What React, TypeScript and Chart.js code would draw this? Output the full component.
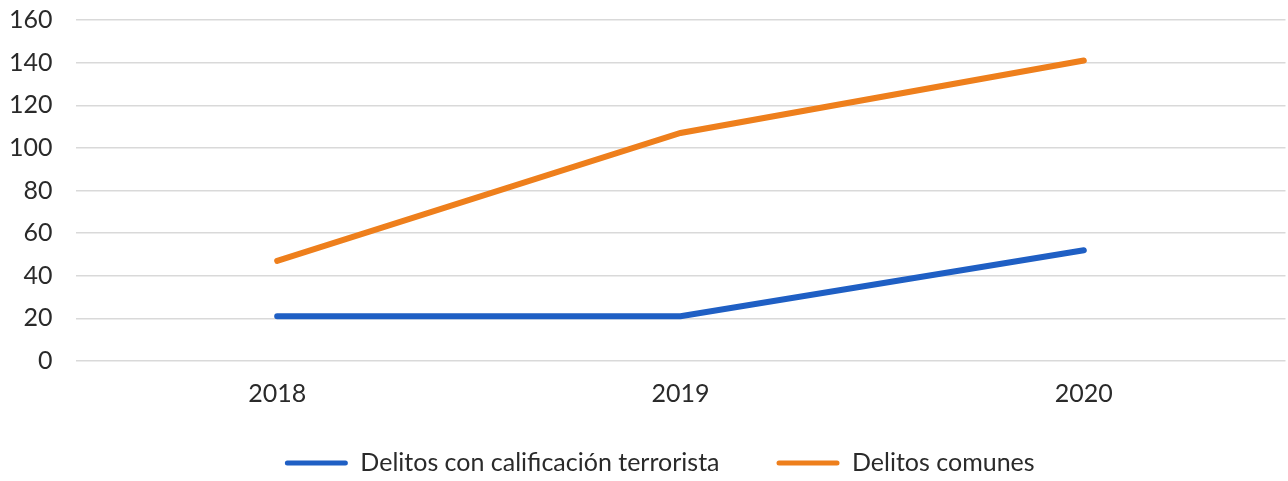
import React, { useEffect, useRef } from "react";
import { Chart, registerables } from "chart.js";

Chart.register(...registerables);

const categories = ["2018", "2019", "2020"];
const terroristaLabel = "Delitos con calificación terrorista";
const comunesLabel = "Delitos comunes";
const terroristaValues = [21, 21, 52];
const comunesValues = [47, 107, 141];
const yTicks = [0, 20, 40, 60, 80, 100, 120, 140, 160];

const BLUE = "#1f5fc4";
const ORANGE = "#ee7f1c";
const TEXT = "#2a2a2a";
const FONT = "Lato, 'Open Sans', sans-serif";
const LEGEND_SIZE = 25;
const LEGEND_PAD = 57;

const legendShift = {
  id: "legendShift",
  afterLayout(chart: any) {
    const l = chart.legend;
    if (!l) return;
    const dx = 17;
    const targetCenter = 463;
    const dy = targetCenter - (l.top + LEGEND_PAD + LEGEND_SIZE / 2);
    l.left += dx;
    l.right += dx;
    l.top += dy;
    l.bottom += dy;
  },
};

export default function App() {
  const ref = useRef<HTMLCanvasElement | null>(null);

  useEffect(() => {
    document.body.style.margin = "0";
    const canvas = ref.current;
    if (!canvas) return;
    const chart = new Chart(canvas, {
      type: "line",
      data: {
        labels: categories,
        datasets: [
          {
            label: terroristaLabel,
            data: terroristaValues,
            borderColor: BLUE,
            backgroundColor: BLUE,
            borderWidth: 6,
            pointRadius: 0,
            tension: 0,
            borderCapStyle: "round",
          },
          {
            label: comunesLabel,
            data: comunesValues,
            borderColor: ORANGE,
            backgroundColor: ORANGE,
            borderWidth: 6,
            pointRadius: 0,
            tension: 0,
            borderCapStyle: "round",
          },
        ],
      },
      plugins: [legendShift],
      options: {
        animation: false,
        responsive: false,
        maintainAspectRatio: false,
        layout: { padding: { left: 0, right: 2.5, top: 20, bottom: -22 } },
        plugins: {
          tooltip: { enabled: false },
          legend: {
            position: "bottom",
            labels: {
              boxWidth: 63,
              boxHeight: 5,
              padding: LEGEND_PAD,
              color: TEXT,
              font: { family: FONT, size: LEGEND_SIZE },
              useBorderRadius: true,
              borderRadius: 2.5,
              generateLabels: (c: any) => {
                const items = Chart.defaults.plugins.legend.labels.generateLabels(c);
                return items.map((it: any) => ({ ...it, lineWidth: 0 }));
              },
            },
          },
        },
        scales: {
          x: {
            offset: true,
            grid: { display: false, drawTicks: false },
            border: { display: false },
            ticks: {
              color: TEXT,
              font: { family: FONT, size: 25 },
              padding: 18,
            },
            afterFit: (s: any) => {
              s.height = 50;
            },
          },
          y: {
            min: 0,
            max: 160,
            afterBuildTicks: (s: any) => {
              s.ticks = yTicks.map((v) => ({ value: v }));
            },
            grid: { color: "#d9d9d9", lineWidth: 1.5, drawTicks: false },
            border: { display: false },
            ticks: {
              color: TEXT,
              font: { family: FONT, size: 25 },
              padding: 23,
            },
            afterFit: (s: any) => {
              s.width = 75.5;
              s.paddingTop = 0;
              s.paddingBottom = 0;
            },
          },
        },
      },
    });
    return () => chart.destroy();
  }, []);

  return (
    <div style={{ position: "absolute", left: 0, top: 0, width: 1288, height: 481 }}>
      <canvas ref={ref} width={1288} height={481} style={{ width: 1288, height: 481 }} />
    </div>
  );
}
